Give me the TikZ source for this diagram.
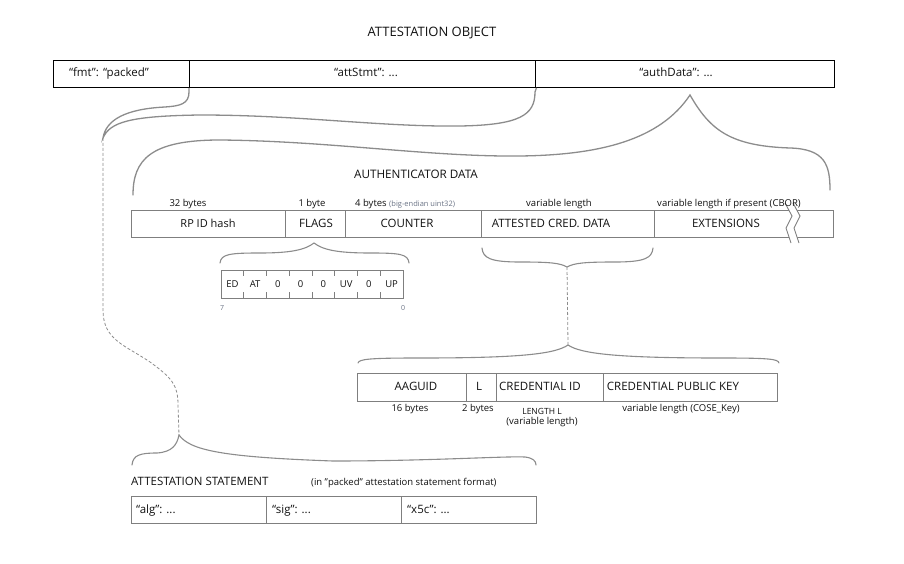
\documentclass[tikz,border=0pt]{standalone}
\usepackage{fontspec}
\setmainfont{Open Sans}
\definecolor{boxgrey}{HTML}{7F7F7F}
\definecolor{bracegrey}{HTML}{8C8C8C}
\definecolor{txt}{HTML}{111111}
\definecolor{note}{HTML}{6A7385}
\newcommand\fsz[1]{\fontsize{#1}{#1}\selectfont}
\tikzset{
  cell/.style={draw=boxgrey, line width=0.9pt, inner sep=0pt, anchor=north west},
  topcell/.style={cell, draw=black, line width=1.3pt},
  brace/.style={draw=bracegrey, line width=1.3pt, line cap=round},
  dashline/.style={draw=bracegrey, line width=0.8pt, dash pattern=on 3pt off 2pt},
  lbl/.style={inner sep=0pt, text=txt, text height=1.5ex, text depth=0.3ex},
  big/.style={lbl, font=\fsz{13}},
  mid/.style={lbl, font=\fsz{11}},
  caps/.style={lbl, font=\fsz{11.5}},
  small/.style={lbl, font=\fsz{9.5}},
  tiny/.style={lbl, font=\fsz{7}, text=note},
}
\begin{document}
\begin{tikzpicture}[x=1pt,y=-1pt]
\useasboundingbox (0,0) rectangle (904,564);
% ---------- attestation object
\node[big] (title) at (432,33) {ATTESTATION OBJECT};
\node[topcell, minimum width=136pt, minimum height=27pt] (fmt) at (53,60) {};
\node[topcell, minimum width=346pt, minimum height=27pt] (attstmt) at (189,60) {};
\node[topcell, minimum width=299pt, minimum height=27pt] (authdata) at (535,60) {};
\node[mid, font=\fsz{11.5}] (tfmt) at (109,73) {“fmt”: “packed”};
\node[mid, font=\fsz{11.5}] (tatt) at (366,73) {“attStmt”: ...};
\node[mid, font=\fsz{11.5}] (tauth) at (676,73) {“authData”: ...};
% ---------- braces from the top row
\coordinate (stmttip) at (103,138);
\coordinate (authtip) at (690,95);
\draw[brace] (attstmt.south west) -- (189,92) .. controls (189,104) and (180,106) .. (165,107)
  .. controls (125,109) and (106,120) .. (stmttip)
  .. controls (110,122) and (130,116) .. (200,115)
  .. controls (300,115) and (380,127) .. (460,126)
  .. controls (520,125) and (535,115) .. (535,92) -- (attstmt.south east);
\draw[brace] (133,195) .. controls (133,160) and (150,140) .. (220,140)
  .. controls (330,141) and (430,157) .. (520,156)
  .. controls (600,155) and (660,140) .. (authtip)
  .. controls (710,130) and (730,146) .. (790,148)
  .. controls (825,149) and (830,165) .. (830,190);
% ---------- authenticator data
\node[caps, font=\fsz{11.7}] (authtitle) at (416,175) {AUTHENTICATOR DATA};
\node[cell, minimum width=154pt, minimum height=27pt] (rpid) at (131,210) {};
\node[cell, minimum width=60pt, minimum height=27pt] (flags) at (285,210) {};
\node[cell, minimum width=136pt, minimum height=27pt] (counter) at (345,210) {};
\node[cell, minimum width=173pt, minimum height=27pt] (acd) at (481,210) {};
\node[cell, minimum width=179pt, minimum height=27pt] (ext) at (654,210) {};
% break mark
\fill[white] (785,203) -- (792,216) -- (786,228) -- (791,243) -- (799,243) -- (794,228) -- (800,216) -- (793,203) -- cycle;
\draw[boxgrey, line width=0.9pt] (785,203) -- (792,216) -- (786,228) -- (791,243);
\draw[boxgrey, line width=0.9pt] (793,203) -- (800,216) -- (794,228) -- (799,243);
\node[small] (l32) at (188,203) {32 bytes};
\node[small] (l1) at (312,203) {1 byte};
\node[small, anchor=west] (l4) at (355,203) {4 bytes {\fsz{7.5}\color{note}(big-endian uint32)}};
\node[small] (lvar) at (559,203) {variable length};
\node[small] (lvarext) at (729,203) {variable length if present (CBOR)};
\node[mid] (trpid) at (208,224) {RP ID hash};
\node[caps] (tflags) at (316,224) {FLAGS};
\node[caps] (tcounter) at (407,224) {COUNTER};
\node[caps] (tacd) at (551,224) {ATTESTED CRED. DATA};
\node[caps] (text) at (726,224) {EXTENSIONS};
% ---------- flags
\draw[brace, line width=1.1pt] (220,263) .. controls (221,254) and (230,253) .. (260,253)
  .. controls (290,253) and (305,250) .. (314,243)
  .. controls (323,250) and (338,253) .. (370,253)
  .. controls (400,253) and (408,254) .. (409,263);
\node[cell, minimum width=182pt, minimum height=28pt] (flagbox) at (221,270) {};
\foreach \k in {1,...,7}{
  \draw[boxgrey, line width=0.9pt] ({221+22.75*\k},270) -- ++(0,6);
  \draw[boxgrey, line width=0.9pt] ({221+22.75*\k},298) -- ++(0,-6);
}
\foreach \b [count=\i from 0] in {ED,AT,0,0,0,UV,0,UP}{
  \node[small] (bit\i) at ({221+22.75*(\i+0.5)},284) {\b};
}
\node[tiny] (b7) at (222,307) {7};
\node[tiny] (b0) at (403,307) {0};
% ---------- attested credential data
\coordinate (acdtip) at (567,267);
\coordinate (credtip) at (568,345);
\draw[brace, line width=1.1pt] (482,248) .. controls (483,258) and (490,262) .. (520,262)
  .. controls (550,262) and (560,263) .. (acdtip)
  .. controls (574,263) and (585,262) .. (615,262)
  .. controls (645,262) and (652,258) .. (653,248);
\draw[dashline] (acdtip) -- (credtip);
\draw[brace, line width=1.1pt] (358,363) .. controls (359,359) and (370,358) .. (420,358)
  .. controls (520,358) and (555,354) .. (credtip)
  .. controls (581,354) and (620,358) .. (720,358)
  .. controls (770,358) and (778,359) .. (779,363);
\node[cell, minimum width=109pt, minimum height=28pt] (aaguid) at (357,373) {};
\node[cell, minimum width=30pt, minimum height=28pt] (lcell) at (466,373) {};
\node[cell, minimum width=107pt, minimum height=28pt] (credid) at (496,373) {};
\node[cell, minimum width=174pt, minimum height=28pt] (credpk) at (603,373) {};
\node[caps] (taaguid) at (416,387) {AAGUID};
\node[caps] (tl) at (479,387) {L};
\node[caps, anchor=west] (tcredid) at (499,387) {CREDENTIAL ID};
\node[caps] (tcredpk) at (673,387) {CREDENTIAL PUBLIC KEY};
\node[small] (l16) at (410,408) {16 bytes};
\node[small] (l2) at (478,408) {2 bytes};
\node[small, font=\fsz{8.5}] (llen) at (542,411) {LENGTH L};
\node[small] (lvl) at (542,421) {(variable length)};
\node[small] (lcose) at (681,408) {variable length (COSE\_Key)};
% ---------- attestation statement
\coordinate (stmtbrace) at (179,435);
\draw[dashline] (stmttip) -- (103,310) .. controls (103,340) and (125,345) .. (150,362)
  .. controls (172,378) and (178,385) .. (178,405) -- (stmtbrace);
\draw[brace, line width=1.1pt] (132,465) .. controls (133,455) and (140,453) .. (157,453)
  .. controls (172,452) and (177,445) .. (stmtbrace)
  .. controls (190,450) and (220,457) .. (333,461)
  .. controls (430,461) and (505,456) .. (525,457)
  .. controls (533,458) and (536,461) .. (536,465);
\node[caps, anchor=west] (stmttitle) at (131,482) {ATTESTATION STATEMENT};
\node[small, anchor=west] (stmtnote) at (311,482) {(in \symbol{34}packed\symbol{34} attestation statement format)};
\node[cell, minimum width=135pt, minimum height=27pt] (alg) at (131,496) {};
\node[cell, minimum width=135pt, minimum height=27pt] (sig) at (266,496) {};
\node[cell, minimum width=135pt, minimum height=27pt] (x5c) at (401,496) {};
\node[mid, font=\fsz{11.5}, anchor=west] (talg) at (136,510) {“alg”: ...};
\node[mid, font=\fsz{11.5}, anchor=west] (tsig) at (272,510) {“sig”: ...};
\node[mid, font=\fsz{11.5}, anchor=west] (tx5c) at (407,510) {“x5c”: ...};
\end{tikzpicture}
\end{document}
